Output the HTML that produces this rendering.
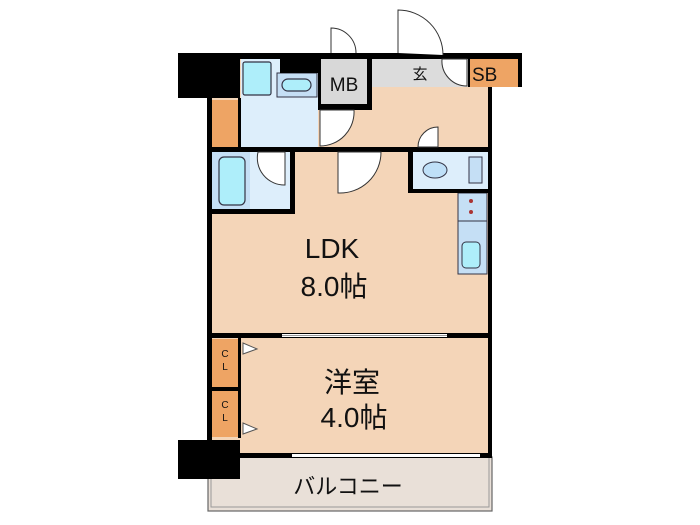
<!DOCTYPE html>
<html><head><meta charset="utf-8"><style>
html,body{margin:0;padding:0;background:#fff;width:700px;height:525px;overflow:hidden}
svg text{font-family:"Liberation Sans","Noto Sans CJK JP",sans-serif;fill:#111}
</style></head><body>
<svg width="700" height="525" viewBox="0 0 700 525" xmlns="http://www.w3.org/2000/svg">
<rect x="208" y="457" width="284" height="54" fill="#e9e0d8" stroke="#666" stroke-width="1.2"/>
<rect x="211" y="457" width="278" height="50" fill="none" stroke="#999" stroke-width="1"/>
<text x="348" y="494" font-size="22" text-anchor="middle">バルコニー</text>
<rect x="212" y="58" width="276" height="400" fill="#f4d5b8"/>
<rect x="241" y="58" width="77" height="90" fill="#ddeefb"/>
<rect x="212" y="152" width="79" height="58" fill="#ddeefb"/>
<rect x="212" y="152" width="38" height="58" fill="#c5dff5"/>
<rect x="219" y="157" width="26" height="48" rx="5" fill="#aeeefa" stroke="#334" stroke-width="1.2"/>
<rect x="372" y="58" width="96" height="29" fill="#dcdcdc"/>
<text x="420" y="79" font-size="15" text-anchor="middle">玄</text>
<rect x="470" y="59" width="48" height="28" fill="#eea464"/>
<text x="472" y="81" font-size="19">SB</text>
<rect x="318" y="58" width="54" height="52" fill="#000"/>
<rect x="321" y="59" width="46" height="45" fill="#d8d8d8"/>
<text x="344" y="91" font-size="19" text-anchor="middle">MB</text>
<rect x="212" y="100" width="28" height="47" fill="#eea464"/>
<rect x="243" y="62" width="28" height="33" rx="2" fill="#aeeefa" stroke="#334" stroke-width="1.2"/>
<rect x="277" y="73" width="40" height="24" fill="#c5dff5" stroke="#334" stroke-width="1"/>
<rect x="282" y="79" width="29" height="12" rx="6" fill="#aeeefa" stroke="#334" stroke-width="1.2"/>
<rect x="413" y="152" width="75" height="38" fill="#ddeefb"/>
<ellipse cx="435" cy="170" rx="12" ry="8" fill="#bfe0f8" stroke="#334"/>
<rect x="469" y="157" width="13" height="26" fill="#c5dff5" stroke="#334"/>
<rect x="458" y="193" width="29" height="81" fill="#c5dff5" stroke="#334" stroke-width="1"/>
<line x1="458" y1="221" x2="487" y2="221" stroke="#334"/>
<circle cx="471" cy="201" r="2" fill="#a33"/><circle cx="471" cy="212" r="2" fill="#a33"/>
<rect x="462" y="242" width="18" height="26" rx="4" fill="#aeeefa" stroke="#334"/>
<rect x="212" y="339" width="26" height="48" fill="#eea464"/>
<rect x="212" y="391" width="26" height="46" fill="#eea464"/>
<text x="225" y="357" font-size="10" text-anchor="middle">C</text><text x="225" y="370" font-size="10" text-anchor="middle">L</text>
<text x="225" y="408" font-size="10" text-anchor="middle">C</text><text x="225" y="421" font-size="10" text-anchor="middle">L</text>
<polygon points="243,343 257,349 243,354" fill="#fff" stroke="#555"/>
<polygon points="243,423 257,429 243,434" fill="#fff" stroke="#555"/>
<g fill="#000">
<rect x="178" y="53" width="62" height="45"/>
<rect x="207" y="53" width="315" height="6"/>
<rect x="280" y="53" width="38" height="20"/>
<rect x="518" y="53" width="4" height="34"/>
<rect x="488" y="87" width="4" height="371"/>
<rect x="468" y="59" width="2" height="28"/>
<rect x="207" y="53" width="5" height="405"/>
<rect x="238" y="98" width="3" height="50"/>
<rect x="207" y="147" width="285" height="5"/>
<rect x="290" y="147" width="5" height="67"/>
<rect x="207" y="209" width="88" height="5"/>
<rect x="408" y="147" width="5" height="46"/>
<rect x="408" y="189" width="84" height="4"/>
<rect x="207" y="333" width="285" height="5"/>
<rect x="238" y="338" width="3" height="100"/>
<rect x="212" y="387" width="28" height="4"/>
<rect x="178" y="440" width="62" height="39"/>
<rect x="207" y="453" width="285" height="5"/>
</g>
<g fill="#fff" stroke="#333" stroke-width="1">
<path d="M331,53 V28 A25,25 0 0 1 356,53"/>
<path d="M398,53 V10 A45,45 0 0 1 443,55"/>
<path d="M442,59 A25,25 0 0 0 467,86 V59Z"/>
<path d="M320,110 H354 A34,34 0 0 1 320,146Z"/>
<path d="M418,147 A20,20 0 0 1 438,127 V147Z"/>
<path d="M338,152 V193 A41,41 0 0 0 381,152Z"/>
<path d="M258,152 H285 V185 A27,27 0 0 1 258,152Z"/>
</g>
<rect x="282" y="334" width="165" height="3" fill="#fff"/>
<line x1="282" y1="335.5" x2="447" y2="335.5" stroke="#999"/>
<rect x="292" y="454" width="188" height="3" fill="#fff"/>
<text x="332" y="258" font-size="28" text-anchor="middle">LDK</text>
<text x="334" y="296" font-size="28" text-anchor="middle">8.0帖</text>
<text x="352" y="392" font-size="28" text-anchor="middle">洋室</text>
<text x="354" y="427" font-size="28" text-anchor="middle">4.0帖</text>
</svg>
</body></html>
